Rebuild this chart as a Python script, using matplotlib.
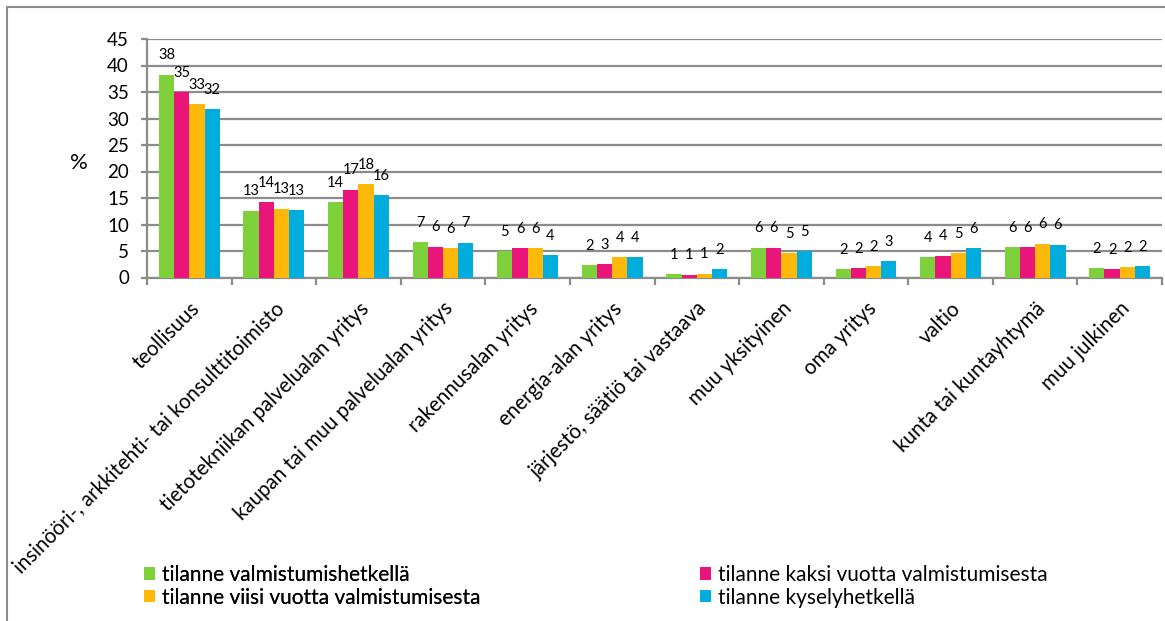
import matplotlib
matplotlib.use('Agg')
import matplotlib.pyplot as plt
import numpy as np
from matplotlib.patches import Rectangle

categories = [
    "teollisuus",
    "insinööri-, arkkitehti- tai konsulttitoimisto",
    "tietotekniikan palvelualan yritys",
    "kaupan tai muu palvelualan yritys",
    "rakennusalan yritys",
    "energia-alan yritys",
    "järjestö, säätiö tai vastaava",
    "muu yksityinen",
    "oma yritys",
    "valtio",
    "kunta tai kuntayhtymä",
    "muu julkinen",
]
series_names = [
    "tilanne valmistumishetkellä",
    "tilanne kaksi vuotta valmistumisesta",
    "tilanne viisi vuotta valmistumisesta",
    "tilanne kyselyhetkellä",
]
valmistuminen = [38.3, 12.6, 14.2, 6.7, 5.0, 2.3, 0.6, 5.6, 1.52, 3.8, 5.7, 1.8]
kaksi_vuotta = [35.0, 14.2, 16.55, 5.8, 5.55, 2.55, 0.52, 5.6, 1.7, 4.1, 5.7, 1.52]
viisi_vuotta = [32.7, 13.0, 17.6, 5.52, 5.52, 3.85, 0.7, 4.55, 2.15, 4.55, 6.4, 1.95]
kyselyhetki = [31.8, 12.7, 15.52, 6.6, 4.2, 3.85, 1.52, 5.0, 3.1, 5.55, 6.2, 2.15]
y_ticks = [0, 5, 10, 15, 20, 25, 30, 35, 40, 45]

series = [valmistuminen, kaksi_vuotta, viisi_vuotta, kyselyhetki]
colors = ["#7FD13B", "#EA157A", "#FEB80A", "#00ADDC"]

plt.rcParams['font.family'] = ['Lato', 'DejaVu Sans']

W, H = 1165, 621
fig = plt.figure(figsize=(W / 100, H / 100), dpi=100)
ax = fig.add_axes([147 / W, 1 - 277.5 / H, (1162 - 147) / W, (277.5 - 39) / H])

n = len(categories)
x = np.arange(n)
bw = 0.18
handles = []
for i, (vals, col, name) in enumerate(zip(series, colors, series_names)):
    pos = x + (i - 1.5) * bw
    bars = ax.bar(pos, vals, width=bw, color=col, label=name, zorder=3)
    handles.append(bars)
    for p, v in zip(pos, vals):
        ax.annotate(f"{v:.0f}", (p, v), xytext=(0, 14), textcoords='offset points',
                    ha='center', va='center', fontsize=10.5, color='black', zorder=4)

ax.set_xlim(-0.5, n - 0.5)
ax.set_ylim(0, 45)
ax.set_yticks(y_ticks)
ax.yaxis.grid(True, color='#8C8C8C', linewidth=1.6, zorder=0)
ax.set_axisbelow(True)
for s in ['top', 'right']:
    ax.spines[s].set_visible(False)
for s in ['left', 'bottom']:
    ax.spines[s].set_color('#8C8C8C')
    ax.spines[s].set_linewidth(1.6)
ax.tick_params(axis='y', length=4, width=1.6, color='#8C8C8C', pad=9, labelsize=13.5)

ax.set_xticks(np.arange(n + 1) - 0.5)
ax.set_xticklabels([])
ax.tick_params(axis='x', which='major', length=5, width=1.6, color='#8C8C8C', direction='out')
ax.set_xticks(x, minor=True)
ax.set_xticklabels(categories, minor=True, rotation=45, ha='right',
                   rotation_mode='anchor', fontsize=14.8)
ax.tick_params(axis='x', which='minor', length=0, pad=15)

fig.text(79 / W, 1 - 163 / H, "%", fontsize=16, ha='center', va='center')

leg_kw = dict(loc='upper left', frameon=False, fontsize=15, handlelength=0.55,
              handleheight=0.55, handletextpad=0.3, labelspacing=0.12,
              borderaxespad=0, borderpad=0)
leg1 = fig.legend([handles[0], handles[2]], [series_names[0], series_names[2]],
                  bbox_to_anchor=(144 / W, 1 - 565 / H), **leg_kw)
fig.add_artist(leg1)
fig.legend([handles[1], handles[3]], [series_names[1], series_names[3]],
           bbox_to_anchor=(700 / W, 1 - 565 / H), **leg_kw)

fig.patches.append(Rectangle((7 / W, -0.1), 1.2, 1 - 7 / H + 0.1, transform=fig.transFigure,
                             fill=False, edgecolor='#8C8C8C', linewidth=1.5))

fig.savefig("out.png", dpi=100)
